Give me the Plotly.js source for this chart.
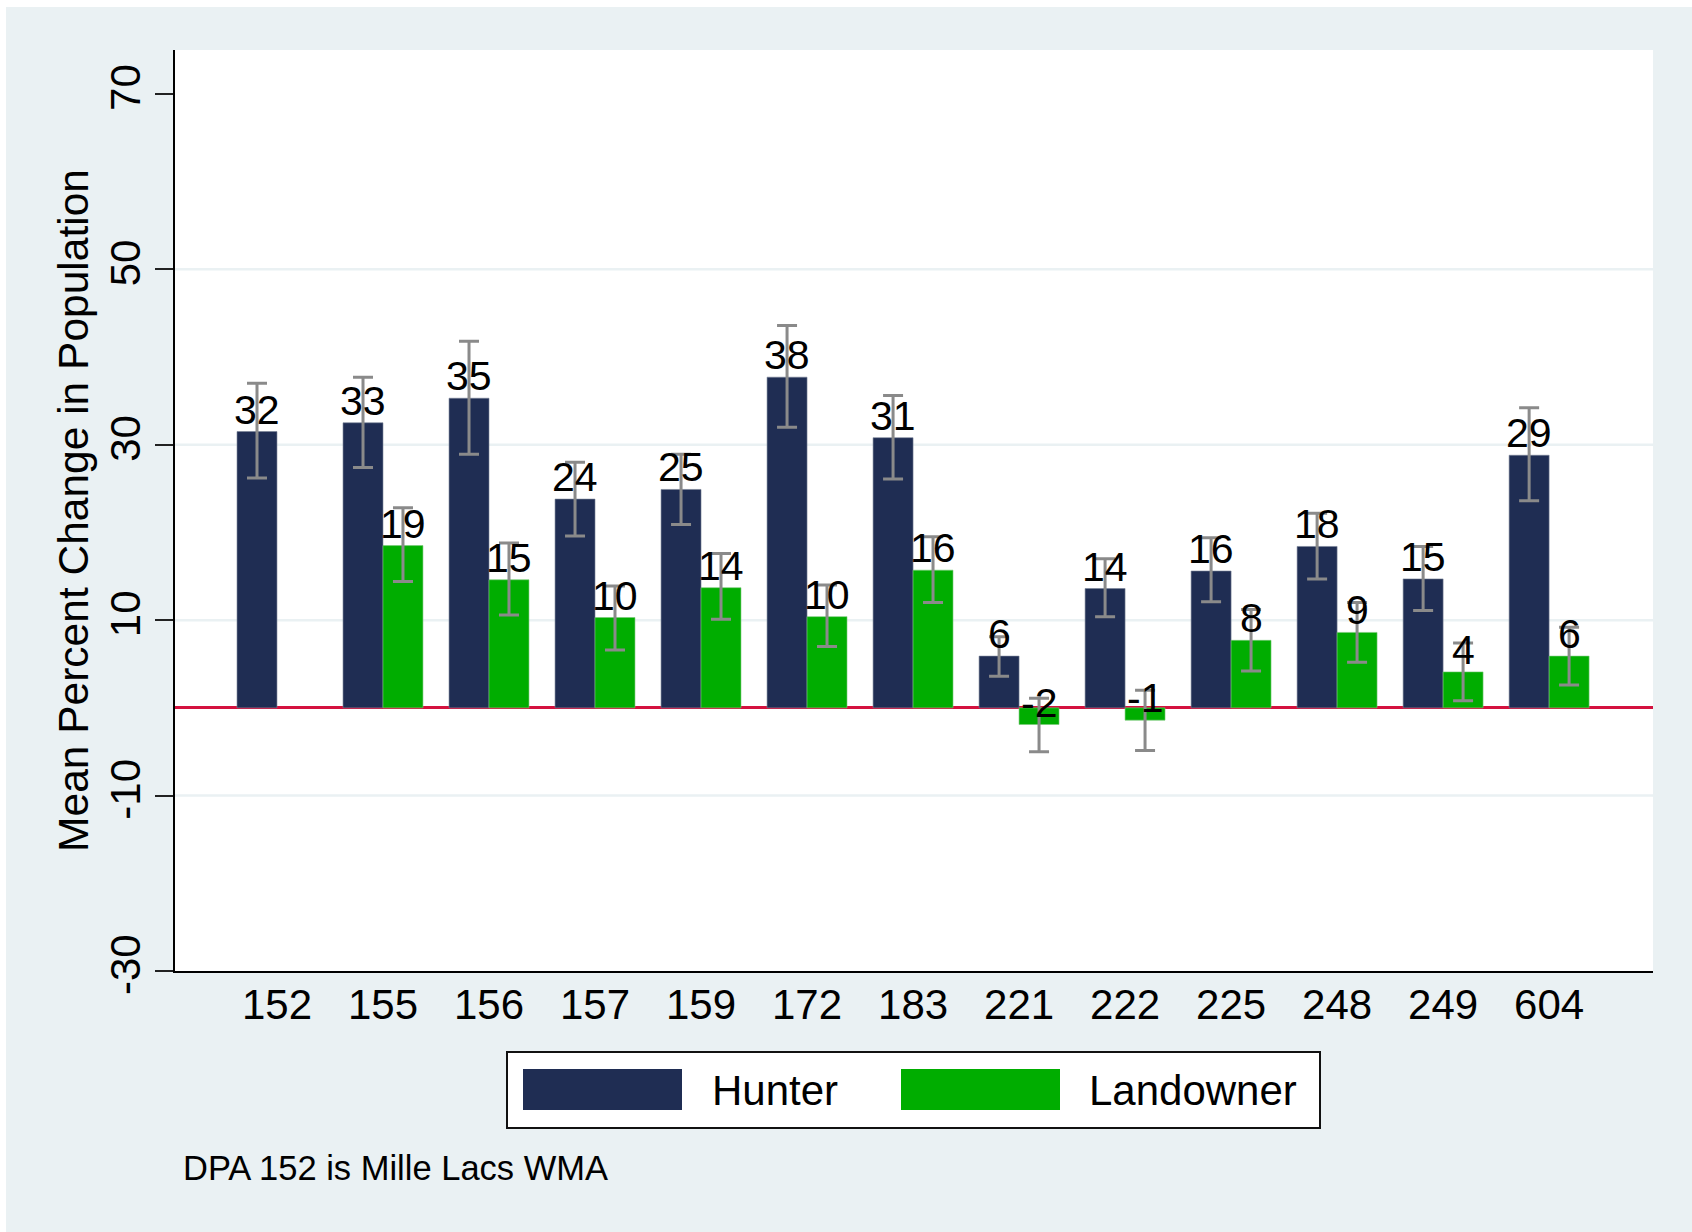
<!DOCTYPE html>
<html>
<head>
<meta charset="utf-8">
<script src="https://cdn.plot.ly/plotly-3.0.1.min.js"></script>
<style>
  html, body { margin: 0; padding: 0; background: #ffffff; }
  #chart { position: absolute; left: 6px; top: 7px; width: 1686px; height: 1225px; }
</style>
</head>
<body>
<div id="chart"></div>
<script>
// ---- data ----
const categories = ['152','155','156','157','159','172','183','221','222','225','248','249','604'];
const hunter     = [31.5, 32.5, 35.3, 23.8, 24.9, 37.7, 30.8, 5.9, 13.6, 15.6, 18.4, 14.7, 28.8];
const hunterHi   = [37.0, 37.7, 41.8, 28.0, 28.9, 43.6, 35.6, 8.1, 17.0, 19.4, 22.2, 18.4, 34.2];
const hunterLo   = [26.2, 27.4, 28.9, 19.6, 20.9, 32.0, 26.1, 3.6, 10.4, 12.1, 14.7, 11.1, 23.6];
const landowner  = [null, 18.5, 14.6, 10.3, 13.7, 10.4, 15.7, -1.9, -1.4, 7.7, 8.6, 4.1, 5.9];
const landHi     = [null, 22.8, 18.8, 13.9, 17.6, 14.0, 19.5, 1.1, 2.0, 11.2, 12.0, 7.4, 9.2];
const landLo     = [null, 14.4, 10.6, 6.6, 10.1, 7.0, 12.0, -5.0, -4.85, 4.2, 5.2, 0.8, 2.6];
const seriesNames = ['Hunter', 'Landowner'];
const yTicks = [-30, -10, 10, 30, 50, 70];
const gridVals = [50, 30, 10, -10];
const footnote = 'DPA 152 is Mille Lacs WMA';

// ---- styling ----
const FONT = 'Liberation Sans, Arial, Helvetica, sans-serif';
const navy = '#1f2d53';
const green = '#00ad00';
const errColor = '#8a8a8a';
const bgColor = '#eaf1f3';
const BARGAP = 0.246;

// plot-area geometry (page px) for placing legend/footnote in paper coords
const PL = 175, PR = 1653, PT = 50, PB = 971;
const px = X => (X - PL) / (PR - PL);
const py = Y => (PB - Y) / (PB - PT);

const xIdx = categories.map((c, i) => i);

function errs(vals, hi, lo) {
  return {
    type: 'data', symmetric: false,
    array: vals.map((v, i) => v == null ? null : hi[i] - v),
    arrayminus: vals.map((v, i) => v == null ? null : v - lo[i]),
    color: errColor, thickness: 3, width: 10
  };
}

const traces = [
  { type: 'bar', name: seriesNames[0], x: xIdx, y: hunter,
    marker: { color: navy, line: { color: 'rgba(120,130,150,0.6)', width: 1 } },
    error_y: errs(hunter, hunterHi, hunterLo), hoverinfo: 'skip' },
  { type: 'bar', name: seriesNames[1], x: xIdx, y: landowner,
    marker: { color: green, line: { color: 'rgba(120,200,120,0.6)', width: 1 } },
    error_y: errs(landowner, landHi, landLo), hoverinfo: 'skip' }
];

// value labels, placed at the bar ends
const off = (1 - BARGAP) / 4;
const annotations = [];
[[hunter, -off], [landowner, off]].forEach(([vals, o]) => {
  vals.forEach((v, i) => {
    if (v == null) return;
    annotations.push({
      x: i + o, y: v, xref: 'x', yref: 'y', text: String(Math.round(v)),
      showarrow: false, xanchor: 'center', yanchor: 'bottom', yshift: -3,
      font: { family: FONT, size: 41, color: '#000' }
    });
  });
});

// legend (drawn by hand to match the large swatches)
const shapes = [];
gridVals.forEach(g => shapes.push({
  type: 'line', xref: 'paper', yref: 'y', x0: 0, x1: 1, y0: g, y1: g,
  line: { color: bgColor, width: 2.5 }, layer: 'below'
}));
shapes.push({ type: 'rect', xref: 'paper', yref: 'paper',
  x0: px(507), x1: px(1320), y0: py(1052), y1: py(1128),
  line: { color: '#111', width: 2 }, fillcolor: '#ffffff', layer: 'above' });
const swatchX = [523, 901];
const labelX = [710, 1087];
const swatchCol = [navy, green];
seriesNames.forEach((n, k) => {
  shapes.push({ type: 'rect', xref: 'paper', yref: 'paper',
    x0: px(swatchX[k]), x1: px(swatchX[k] + 159), y0: py(1069), y1: py(1110),
    line: { width: 0 }, fillcolor: swatchCol[k], layer: 'above' });
  annotations.push({ xref: 'paper', yref: 'paper', x: px(labelX[k]), y: py(1090),
    text: n, showarrow: false, xanchor: 'left', yanchor: 'middle',
    font: { family: FONT, size: 42, color: '#000' } });
});
annotations.push({ xref: 'paper', yref: 'paper', x: px(181), y: py(1168),
  text: footnote, showarrow: false, xanchor: 'left', yanchor: 'middle',
  font: { family: FONT, size: 34.5, color: '#000' } });

const layout = {
  width: 1686, height: 1225,
  margin: { l: PL - 6, r: 1692 - PR, t: PT - 7, b: 1232 - PB, pad: 0 },
  paper_bgcolor: bgColor, plot_bgcolor: '#ffffff',
  barmode: 'group', bargap: BARGAP, bargroupgap: 0,
  showlegend: false,
  font: { family: FONT, color: '#000' },
  xaxis: {
    type: 'linear', range: [-0.962, 12.98],
    tickvals: xIdx, ticktext: categories,
    ticks: '', showgrid: false, zeroline: false,
    showline: true, linecolor: '#000', linewidth: 2,
    tickfont: { family: FONT, size: 42, color: '#000' },
    ticklabelstandoff: -4, fixedrange: true
  },
  yaxis: {
    range: [-30, 75], tickvals: yTicks, ticktext: yTicks.map(String),
    tickangle: -90, ticks: 'outside', ticklen: 18, tickwidth: 2, tickcolor: '#222',
    showgrid: false, zeroline: true, zerolinecolor: '#d4123f', zerolinewidth: 3,
    showline: true, linecolor: '#000', linewidth: 2,
    tickfont: { family: FONT, size: 42, color: '#000' },
    ticklabelstandoff: -2,
    title: { text: 'Mean Percent Change in Population', standoff: 0,
             font: { family: FONT, size: 42.5, color: '#000' } },
    fixedrange: true
  },
  shapes: shapes,
  annotations: annotations
};

Plotly.newPlot('chart', traces, layout, { displayModeBar: false, staticPlot: true });
</script>
</body>
</html>
